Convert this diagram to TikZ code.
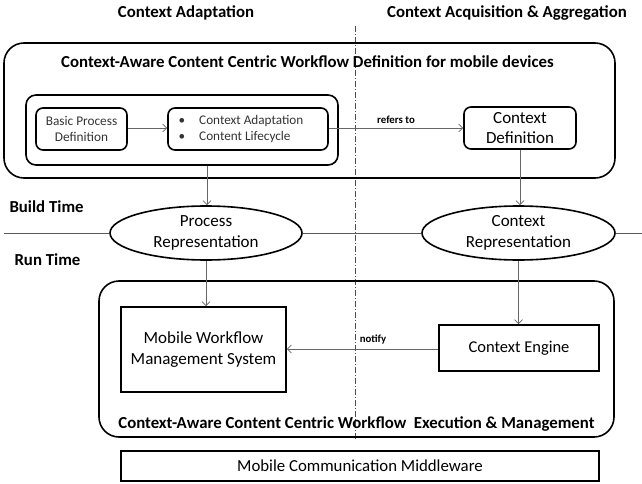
\documentclass[tikz,border=0pt]{standalone}
\usepackage{fontspec}
\setmainfont{Carlito}
\usetikzlibrary{arrows.meta,shapes.geometric}
\begin{document}
\begin{tikzpicture}[x=1pt,y=-1pt,
  heavy/.style={draw=black,line width=1.6pt},
  panel/.style={heavy,rounded corners=20pt},
  rbox/.style={heavy,rounded corners=7pt,align=center,inner sep=0pt,text=black!80},
  sbox/.style={heavy,align=center,inner sep=0pt},
  oval/.style={heavy,ellipse,fill=white,align=center,inner sep=0pt,font=\fontsize{17}{21}\selectfont},
  head/.style={font=\fontsize{16.8}{20}\selectfont\bfseries},
  tag/.style={font=\fontsize{10.8}{13}\selectfont\bfseries},
  link/.style={draw=black!60,line width=0.7pt,-{Straight Barb[length=4pt,width=8pt]}},
  rule/.style={draw=black!65,line width=0.8pt},
  divider/.style={draw=black!70,line width=0.5pt,dash pattern=on 6pt off 2pt on 1pt off 2pt}
]
\useasboundingbox (0,0) rectangle (642,484);

% column headings and the dash-dot divider between them
\node[head] (hadapt) at (186,13) {Context Adaptation};
\node[head] (hacq) at (507,13) {Context Acquisition \& Aggregation};
\coordinate (dtop) at (355,26);
\coordinate (dbot) at (355,440);
\draw[divider] (dtop) -- (dbot);

% build-time definition panel
\node[panel,minimum width=611pt,minimum height=135pt] (defpanel) at (309.5,110.5) {};
\node[head] (deftitle) at (307.5,62) {Context-Aware Content Centric Workflow Definition for mobile devices};
\node[heavy,rounded corners=10pt,minimum width=312pt,minimum height=70pt] (group) at (182,130) {};
\node[rbox,minimum width=91pt,minimum height=42pt,font=\fontsize{13.3}{16.5}\selectfont] (basic) at (81.5,129) {Basic Process\\Definition};
\node[rbox,minimum width=160pt,minimum height=42pt,font=\fontsize{13.2}{16.5}\selectfont] (bullets) at (248,129)
  {\begin{tabular}{@{}l@{\hspace{14pt}}l@{\hspace{14pt}}}\textbullet & Context Adaptation\\ \textbullet & Content Lifecycle\end{tabular}};
\node[rbox,text=black,minimum width=112pt,minimum height=42pt,font=\fontsize{17}{20}\selectfont] (ctxdef) at (520,128) {Context\\Definition};

% representations on the build/run time boundary
\node[head,anchor=west] (build) at (6,207) {Build Time};
\node[head,anchor=west] (run) at (11,260) {Run Time};
\node[oval,minimum width=192pt,minimum height=54pt] (procrep) at (206,233) {Process\\Representation};
\node[oval,minimum width=193pt,minimum height=54pt] (ctxrep) at (518.5,233) {Context\\Representation};
\coordinate (rl) at (4,233);
\coordinate (rr) at (642,233);
\draw[rule] (rl) -- (procrep.west);
\draw[rule] (procrep.east) -- (ctxrep.west);
\draw[rule] (ctxrep.east) -- (rr);

% run-time execution panel
\node[panel,minimum width=515pt,minimum height=156pt] (runpanel) at (356.5,359) {};
\node[sbox,minimum width=165pt,minimum height=85pt,font=\fontsize{17}{21}\selectfont] (mwms) at (203.5,349.5) {Mobile Workflow\\Management System};
\node[sbox,minimum width=160pt,minimum height=46pt,font=\fontsize{16.5}{20}\selectfont] (engine) at (519,348) {Context Engine};
\node[head] (runtitle) at (356.5,424) {Context-Aware Content Centric Workflow\ \ Execution \& Management};

% middleware layer
\node[sbox,minimum width=478pt,minimum height=30pt,font=\fontsize{16.8}{20}\selectfont] (mw) at (360,466) {Mobile Communication Middleware};

% connectors
\draw[link] (basic.east |- 0,128) -- (bullets.west |- 0,128);
\draw[link] (bullets.east |- 0,128) -- node[tag,above=1pt] (refers) {refers to} (ctxdef.west |- 0,128);
\draw[link] (group.south -| 207,0) -- (procrep.north -| 207,0);
\draw[link] (ctxdef.south) -- (ctxrep.north -| ctxdef.south);
\draw[link] (procrep.south) -- (mwms.north -| procrep.south);
\draw[link] (ctxrep.south) -- (engine.north -| ctxrep.south);
\draw[link] (engine.west |- 0,349) -- (mwms.east |- 0,349);
\node[tag] (notify) at (373,340) {notify};
\end{tikzpicture}
\end{document}
